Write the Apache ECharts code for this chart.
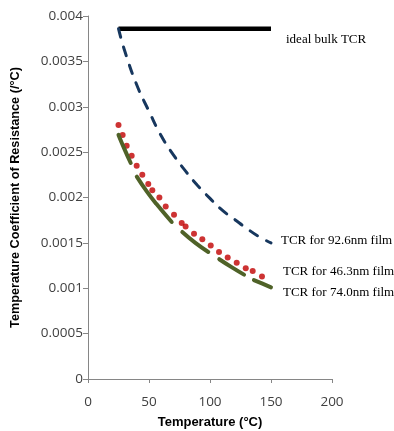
<!DOCTYPE html>
<html><head><meta charset="utf-8">
<script src="https://cdn.jsdelivr.net/npm/echarts@6/dist/echarts.min.js"></script>
<style>html,body{margin:0;padding:0;background:#fff}#c{width:394px;height:431px}</style>
</head><body><div id="c"></div>
<script>
// Ideal bulk TCR (flat line)
const bulkT = [25, 150];
const bulkV = [0.00386, 0.00386];
// TCR for 92.6nm film (dashed)
const t926 = [25, 30, 40, 50, 60, 70, 80, 90, 100, 110, 120, 130, 140, 150];
const v926 = [0.00386, 0.00362, 0.00324, 0.00295, 0.00268, 0.00247, 0.00229, 0.00213, 0.00199, 0.00186, 0.00176, 0.00166, 0.00157, 0.00150];
// TCR for 46.3nm film (red dots)
const t463 = [25, 28.4, 31.7, 35.8, 39.9, 44.5, 49.4, 52.7, 58.5, 63.7, 70.5, 76.8, 80, 86.9, 93.7, 100.6, 107.4, 114.5, 121.9, 129.3, 135, 142.6];
const v463 = [0.00280, 0.00269, 0.00257, 0.00246, 0.00235, 0.00225, 0.00215, 0.00208, 0.00200, 0.00190, 0.00181, 0.00172, 0.00168, 0.00160, 0.00154, 0.00147, 0.00140, 0.00134, 0.00128, 0.00122, 0.00119, 0.00113];
// TCR for 74.0nm film (green, drawn as separate segments; null = gap)
const t740 = [25, 30, 35, null, 40, 48, 56, 68.6, null, 77.3, 88, 98.6, null, 107.6, 118, 127.9, null, 136, 143, 150];
const v740 = [0.00269, 0.00253, 0.00238, null, 0.00223, 0.00207, 0.00193, 0.00173, null, 0.00162, 0.00150, 0.00140, null, 0.00132, 0.00123, 0.00115, null, 0.00109, 0.00105, 0.00101];
// Axis ticks
const xTicks = [0, 50, 100, 150, 200];
const yTicks = [0, 0.0005, 0.001, 0.0015, 0.002, 0.0025, 0.003, 0.0035, 0.004];
const labels = ['ideal bulk TCR', 'TCR for 92.6nm film', 'TCR for 46.3nm film', 'TCR for 74.0nm film'];

const pair = (a, b) => a.map((x, i) => x === null ? [null, null] : [x, b[i]]);
const chart = echarts.init(document.getElementById('c'), null, {renderer: 'canvas'});
const axisFont = {fontFamily: 'Open Sans', fontSize: 13.5, color: '#404040'};
const serif = {fontFamily: 'Liberation Serif', fontSize: 13, fill: '#000'};
chart.setOption({
  animation: false,
  backgroundColor: '#fff',
  grid: {left: 88, right: 62, top: 16, bottom: 52, containLabel: false, outerBoundsMode: 'none'},
  xAxis: {
    type: 'value', min: xTicks[0], max: xTicks[xTicks.length - 1], interval: 50,
    name: 'Temperature (°C)', nameLocation: 'middle', nameGap: 37,
    nameTextStyle: {fontFamily: 'Liberation Sans', fontSize: 13, fontWeight: 'bold', color: '#000'},
    axisLine: {lineStyle: {color: '#868686', width: 1}},
    axisTick: {show: true, length: 4, lineStyle: {color: '#868686'}},
    axisLabel: Object.assign({margin: 16}, axisFont),
    splitLine: {show: false}
  },
  yAxis: {
    type: 'value', min: yTicks[0], max: yTicks[yTicks.length - 1], interval: 0.0005,
    name: 'Temperature Coefficient of Resistance (/°C)', nameLocation: 'middle', nameGap: 66,
    nameTextStyle: {fontFamily: 'Liberation Sans', fontSize: 12.7, fontWeight: 'bold', color: '#000'},
    axisLine: {show: true, lineStyle: {color: '#868686', width: 1}},
    axisTick: {show: true, length: 5, lineStyle: {color: '#868686'}},
    axisLabel: Object.assign({margin: 5, formatter: v => String(+v.toFixed(4))}, axisFont),
    splitLine: {show: false}
  },
  series: [
    {type: 'line', data: pair(bulkT, bulkV), symbol: 'none', lineStyle: {color: '#000', width: 4.5}},
    {type: 'line', data: pair(t926, v926), symbol: 'none', smooth: true,
     lineStyle: {color: '#17375e', width: 3, type: [9, 10], cap: 'round'}},
    {type: 'line', data: pair(t740, v740), symbol: 'none', smooth: true, connectNulls: false,
     lineStyle: {color: '#4f6228', width: 4, cap: 'round'}},
    {type: 'scatter', data: pair(t463, v463), symbol: 'circle', symbolSize: 6,
     itemStyle: {color: '#c00000'}}
  ],
  graphic: [
    {type: 'text', left: 286, top: 33, style: Object.assign({text: labels[0]}, serif)},
    {type: 'text', left: 281, top: 234, style: Object.assign({text: labels[1]}, serif)},
    {type: 'text', left: 283, top: 265, style: Object.assign({text: labels[2]}, serif)},
    {type: 'text', left: 283, top: 286, style: Object.assign({text: labels[3]}, serif)}
  ]
});
</script></body></html>
